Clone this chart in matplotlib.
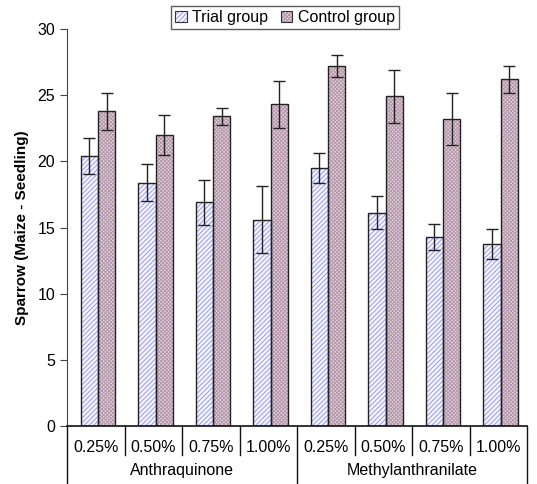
import numpy as np
import matplotlib.pyplot as plt
import matplotlib as mpl
from matplotlib.legend_handler import HandlerTuple

plt.rcParams['font.family'] = ['Liberation Sans', 'DejaVu Sans']
plt.rcParams['hatch.linewidth'] = 0.7

# data
repellents = ['Anthraquinone', 'Methylanthranilate']
doses = ['0.25%', '0.50%', '0.75%', '1.00%']
trial = [20.4, 18.4, 16.9, 15.6, 19.5, 16.1, 14.3, 13.75]
trial_err = [1.35, 1.4, 1.7, 2.5, 1.1, 1.25, 1.0, 1.15]
control = [23.8, 22.0, 23.4, 24.3, 27.2, 24.9, 23.2, 26.2]
control_err = [1.4, 1.5, 0.65, 1.8, 0.8, 2.0, 2.0, 1.0]

n = len(trial)
x = np.arange(n) + 0.54
w = 0.3

trial_style = dict(facecolor='#f4f4ff', edgecolor='#9a9af2', hatch='///////', linewidth=0)
control_style = dict(facecolor='#e4d6df', edgecolor='#b496aa', hatch='xxxxxxxxx', linewidth=0)

fig = plt.figure(figsize=(5.37, 4.84), dpi=100)
ax = fig.add_axes([67/537, 58/484, 460/537, 397/484])

# hatched fills, then outlines on top
ax.bar(x - w/2, trial, w, **trial_style)
ax.bar(x + w/2, control, w, **control_style)
ax.bar(x - w/2, trial, w, fill=False, edgecolor='#222222', linewidth=1.0)
ax.bar(x + w/2, control, w, fill=False, edgecolor='#222222', linewidth=1.0)
ax.errorbar(x - w/2, trial, yerr=trial_err, fmt='none', ecolor='#222222', elinewidth=1, capsize=4)
ax.errorbar(x + w/2, control, yerr=control_err, fmt='none', ecolor='#222222', elinewidth=1, capsize=4)

ax.set_xlim(0, n)
ax.set_ylim(0, 30)
ax.set_yticks(range(0, 31, 5))
ax.tick_params(axis='y', labelsize=11.5, length=5, direction='out', color='#444444')
ax.set_xticks([])
for s in ['top', 'right']:
    ax.spines[s].set_visible(False)
ax.spines['left'].set_color('#444444')
ax.spines['bottom'].set_color('#111111')
ax.spines['bottom'].set_linewidth(1.2)
ax.set_ylabel('Sparrow (Maize - Seedling)', fontsize=11, fontweight='bold', labelpad=6)

# two-level category axis
tr = ax.get_xaxis_transform()
for i in range(n):
    ax.text(i + 0.5, -0.055, doses[i % len(doses)], transform=tr, ha='center', va='center', fontsize=11.5)
for i in range(n + 1):
    bottom = -0.15 if i % len(doses) == 0 else -0.073
    ax.plot([i, i], [0, bottom], transform=tr, color='#111111', lw=1, clip_on=False)
for j, name in enumerate(repellents):
    ax.text(j * len(doses) + len(doses) / 2, -0.113, name, transform=tr, ha='center', va='center', fontsize=11.5)

outline = dict(fill=False, edgecolor='#333333', linewidth=0.8)
leg_handles = [
    (mpl.patches.Patch(**trial_style), mpl.patches.Patch(**outline)),
    (mpl.patches.Patch(**control_style), mpl.patches.Patch(**outline)),
]
leg = fig.legend(leg_handles, ['Trial group', 'Control group'], loc='upper center',
                 bbox_to_anchor=(285/537, 1 - 6/484), ncol=2, fontsize=11.5, frameon=True,
                 fancybox=False, edgecolor='#333333', handlelength=0.7, handleheight=0.7,
                 handletextpad=0.35, columnspacing=0.8, borderpad=0.25, borderaxespad=0,
                 handler_map={tuple: HandlerTuple(ndivide=1, pad=0)})
leg.get_frame().set_linewidth(1)

fig.savefig('out.png', dpi=100)
